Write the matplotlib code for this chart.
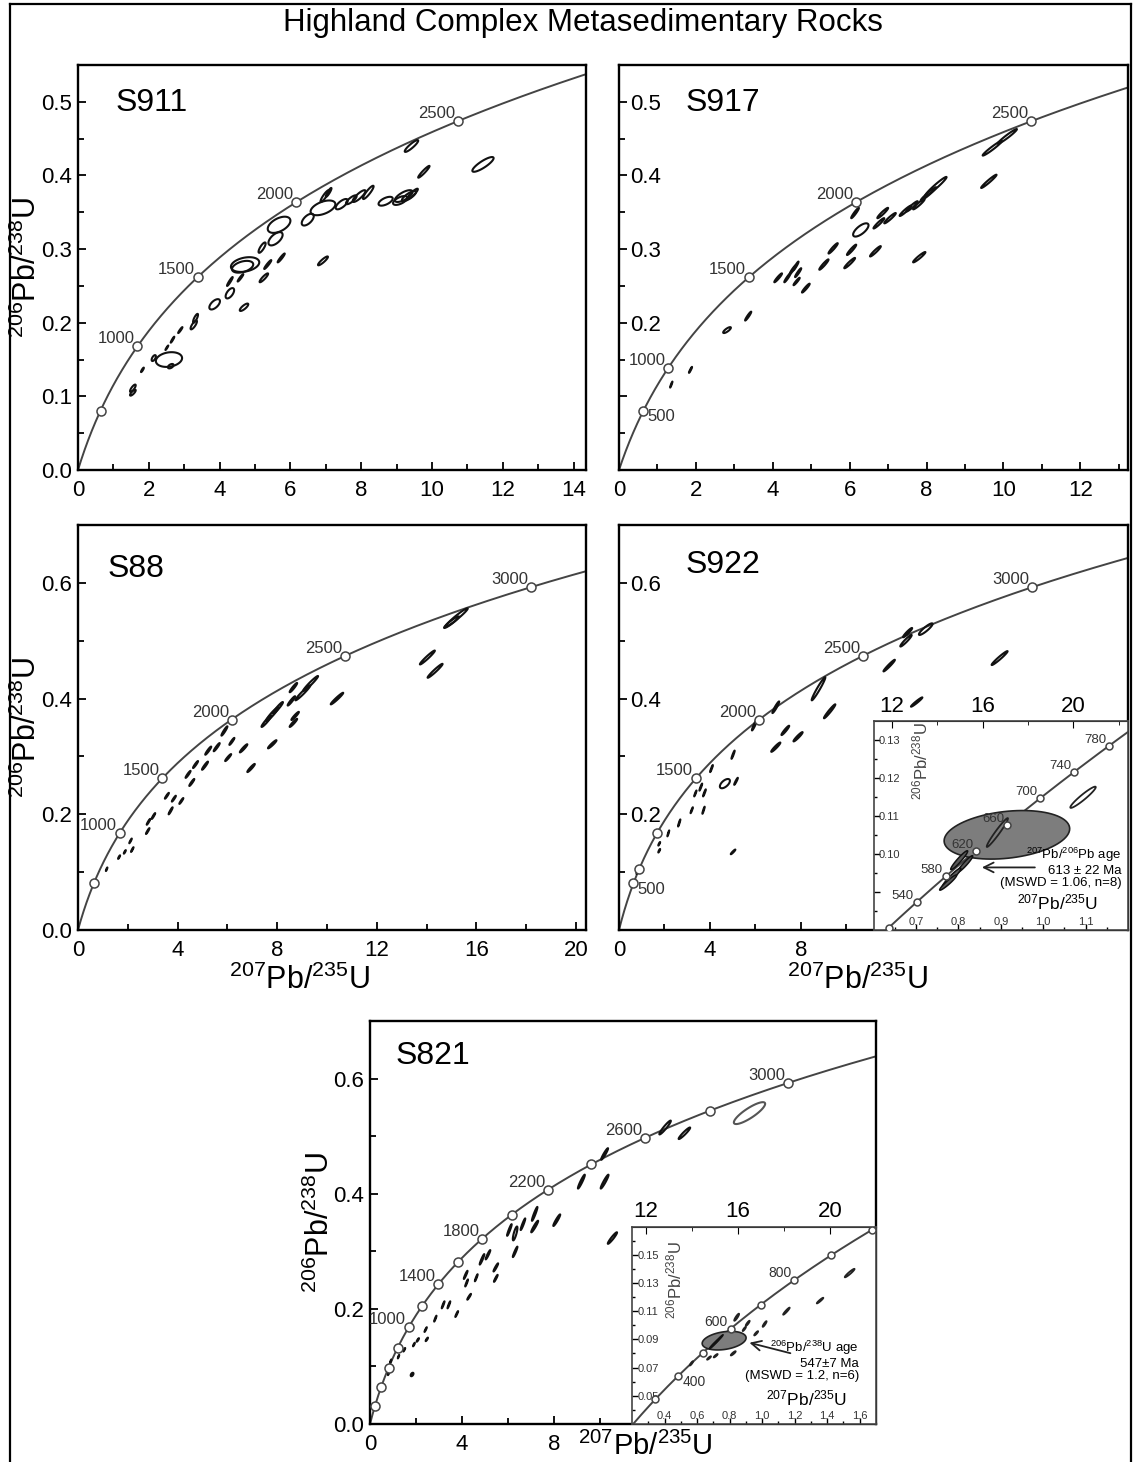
import numpy as np
import matplotlib
matplotlib.use("Agg")
import matplotlib.pyplot as plt
from matplotlib.ticker import FormatStrFormatter

plt.rcParams["font.family"] = ["Liberation Sans", "DejaVu Sans"]
plt.rcParams["mathtext.fontset"] = "custom"
plt.rcParams["mathtext.rm"] = "Liberation Sans"
plt.rcParams["mathtext.it"] = "Liberation Sans:italic"
plt.rcParams["mathtext.bf"] = "Liberation Sans:bold"

# decay constants (per year) used for the concordia curve
L238 = 1.55125e-10
L235 = 9.8485e-10

TITLE = "Highland Complex Metasedimentary Rocks"
YLAB = r"$^{206}$Pb/$^{238}$U"
XLAB = r"$^{207}$Pb/$^{235}$U"

# ---- concordia age markers (Ma), their labels and label side ----
s911_ages = [500, 1000, 1500, 2000, 2500]
s911_labels = ["", "1000", "1500", "2000", "2500"]
s911_side = ["ul"] * 5

s917_ages = [500, 840, 1500, 2000, 2500]
s917_labels = ["500", "1000", "1500", "2000", "2500"]
s917_side = ["lr", "ul", "ul", "ul", "ul"]

s88_ages = [500, 1000, 1500, 2000, 2500, 3000]
s88_labels = ["", "1000", "1500", "2000", "2500", "3000"]
s88_side = ["ul"] * 6

s922_ages = [500, 650, 1000, 1500, 2000, 2500, 3000]
s922_labels = ["500", "", "", "1500", "2000", "2500", "3000"]
s922_side = ["lr", "ul", "ul", "ul", "ul", "ul", "ul"]

s922i_ages = [500, 540, 580, 620, 660, 700, 740, 780]
s922i_labels = ["", "540", "580", "620", "660", "700", "740", "780"]
s922i_side = ["ul"] * 8

s821_ages = [200, 400, 600, 800, 1000, 1200, 1400, 1600, 1800, 2000,
             2200, 2400, 2600, 2800, 3000]
s821_labels = ["", "", "", "", "1000", "", "1400", "", "1800", "",
               "2200", "", "2600", "", "3000"]
s821_side = ["ul"] * 15

s821i_ages = [300, 400, 500, 600, 700, 800, 900, 1000]
s821i_labels = ["", "400", "", "600", "", "800", "", ""]
s821i_side = ["ul", "lr", "ul", "ul", "ul", "ul", "ul", "ul"]

# ---- analyses: 207Pb/235U, 206Pb/238U, x half-extent, y half-extent, rho ----
s911_ell = [
    (9.42, 0.440, 0.19, 0.008, 0.9), (11.44, 0.415, 0.30, 0.010, 0.85),
    (9.77, 0.405, 0.16, 0.008, 0.95), (9.20, 0.372, 0.25, 0.008, 0.7),
    (9.35, 0.372, 0.20, 0.007, 0.8), (9.10, 0.366, 0.20, 0.006, 0.6),
    (9.45, 0.375, 0.15, 0.007, 0.9), (8.69, 0.365, 0.20, 0.006, 0.6),
    (8.20, 0.377, 0.15, 0.009, 0.9), (7.94, 0.372, 0.18, 0.008, 0.85),
    (7.72, 0.367, 0.15, 0.006, 0.8), (7.45, 0.361, 0.17, 0.007, 0.7),
    (6.92, 0.356, 0.35, 0.010, 0.5), (6.97, 0.372, 0.12, 0.008, 0.9),
    (7.08, 0.377, 0.08, 0.006, 0.9), (6.49, 0.340, 0.17, 0.008, 0.6),
    (5.68, 0.333, 0.32, 0.011, 0.5), (5.58, 0.314, 0.20, 0.009, 0.6),
    (5.20, 0.302, 0.10, 0.007, 0.8), (4.72, 0.279, 0.40, 0.010, 0.3),
    (4.65, 0.276, 0.30, 0.008, 0.4), (5.74, 0.288, 0.10, 0.006, 0.95),
    (5.36, 0.279, 0.10, 0.006, 0.95), (5.25, 0.261, 0.12, 0.006, 0.9),
    (4.29, 0.256, 0.08, 0.006, 0.95), (4.59, 0.261, 0.08, 0.005, 0.95),
    (4.29, 0.240, 0.12, 0.007, 0.6), (3.86, 0.225, 0.15, 0.007, 0.6),
    (4.69, 0.221, 0.12, 0.005, 0.8), (6.92, 0.284, 0.14, 0.006, 0.9),
    (3.32, 0.206, 0.07, 0.006, 0.8), (3.27, 0.197, 0.09, 0.006, 0.8),
    (2.89, 0.190, 0.06, 0.004, 0.95), (2.67, 0.177, 0.05, 0.004, 0.95),
    (2.51, 0.166, 0.04, 0.003, 0.95), (2.57, 0.150, 0.37, 0.010, 0.2),
    (2.14, 0.152, 0.06, 0.004, 0.6), (2.62, 0.141, 0.08, 0.003, 0.5),
    (1.82, 0.136, 0.04, 0.003, 0.9), (1.55, 0.111, 0.08, 0.005, 0.8),
    (1.55, 0.105, 0.08, 0.004, 0.8),
]

s917_ell = [
    (9.71, 0.437, 0.25, 0.010, 0.97), (10.10, 0.453, 0.25, 0.010, 0.97),
    (9.62, 0.392, 0.20, 0.009, 0.97), (8.24, 0.385, 0.28, 0.013, 0.97),
    (8.05, 0.375, 0.20, 0.009, 0.97), (7.45, 0.352, 0.15, 0.007, 0.95),
    (7.62, 0.358, 0.15, 0.007, 0.95), (7.80, 0.361, 0.15, 0.007, 0.95),
    (7.05, 0.342, 0.15, 0.007, 0.95), (6.86, 0.349, 0.14, 0.007, 0.95),
    (6.76, 0.335, 0.14, 0.007, 0.95), (6.14, 0.349, 0.10, 0.007, 0.95),
    (6.29, 0.326, 0.20, 0.009, 0.7), (5.57, 0.301, 0.12, 0.007, 0.95),
    (6.05, 0.299, 0.12, 0.007, 0.95), (6.67, 0.297, 0.14, 0.007, 0.95),
    (5.33, 0.279, 0.12, 0.007, 0.95), (6.00, 0.281, 0.14, 0.007, 0.95),
    (7.81, 0.289, 0.16, 0.007, 0.95), (4.52, 0.272, 0.08, 0.006, 0.95),
    (4.66, 0.268, 0.08, 0.006, 0.95), (4.60, 0.277, 0.07, 0.006, 0.95),
    (4.14, 0.261, 0.10, 0.006, 0.95), (4.38, 0.261, 0.08, 0.006, 0.95),
    (4.62, 0.256, 0.08, 0.005, 0.95), (4.86, 0.247, 0.10, 0.006, 0.95),
    (3.36, 0.209, 0.08, 0.006, 0.95), (2.81, 0.190, 0.10, 0.004, 0.8),
    (1.86, 0.136, 0.04, 0.004, 0.95), (1.36, 0.116, 0.03, 0.004, 0.95),
]

s88_ell = [
    (15.20, 0.540, 0.45, 0.016, 0.97), (15.00, 0.532, 0.30, 0.010, 0.95),
    (14.03, 0.471, 0.30, 0.012, 0.97), (14.34, 0.448, 0.30, 0.012, 0.97),
    (10.40, 0.400, 0.25, 0.010, 0.97), (9.34, 0.426, 0.30, 0.013, 0.97),
    (9.03, 0.410, 0.30, 0.013, 0.97), (8.65, 0.419, 0.15, 0.008, 0.95),
    (8.57, 0.396, 0.15, 0.008, 0.95), (8.03, 0.384, 0.20, 0.010, 0.95),
    (7.80, 0.373, 0.25, 0.012, 0.95), (7.57, 0.361, 0.20, 0.010, 0.95),
    (8.72, 0.370, 0.15, 0.007, 0.95), (8.65, 0.358, 0.15, 0.007, 0.95),
    (7.80, 0.321, 0.17, 0.007, 0.95), (6.95, 0.280, 0.15, 0.007, 0.95),
    (6.65, 0.314, 0.15, 0.007, 0.95), (6.18, 0.326, 0.10, 0.006, 0.95),
    (6.03, 0.298, 0.12, 0.006, 0.95), (5.88, 0.344, 0.12, 0.008, 0.95),
    (5.57, 0.316, 0.12, 0.007, 0.95), (5.23, 0.310, 0.12, 0.007, 0.95),
    (5.10, 0.284, 0.12, 0.007, 0.95), (4.72, 0.286, 0.10, 0.006, 0.95),
    (4.42, 0.269, 0.10, 0.006, 0.95), (4.57, 0.255, 0.10, 0.006, 0.95),
    (3.57, 0.232, 0.08, 0.005, 0.95), (3.85, 0.227, 0.08, 0.005, 0.95),
    (4.15, 0.223, 0.08, 0.005, 0.95), (3.72, 0.206, 0.08, 0.006, 0.95),
    (3.03, 0.197, 0.07, 0.005, 0.95), (2.83, 0.187, 0.07, 0.005, 0.95),
    (2.80, 0.171, 0.07, 0.005, 0.95), (2.11, 0.154, 0.05, 0.004, 0.95),
    (2.18, 0.139, 0.05, 0.004, 0.95), (1.88, 0.135, 0.04, 0.003, 0.9),
    (1.65, 0.126, 0.04, 0.003, 0.9), (1.15, 0.105, 0.03, 0.003, 0.9),
]

s922_ell = [
    (16.75, 0.470, 0.35, 0.012, 0.97), (13.50, 0.520, 0.30, 0.010, 0.9),
    (12.70, 0.514, 0.20, 0.008, 0.95), (12.63, 0.500, 0.25, 0.010, 0.95),
    (11.89, 0.457, 0.25, 0.010, 0.97), (13.10, 0.394, 0.25, 0.008, 0.97),
    (8.78, 0.417, 0.30, 0.020, 0.97), (9.27, 0.378, 0.25, 0.012, 0.97),
    (6.90, 0.385, 0.15, 0.010, 0.95), (5.97, 0.355, 0.12, 0.010, 0.95),
    (7.32, 0.345, 0.17, 0.008, 0.95), (7.88, 0.334, 0.20, 0.008, 0.95),
    (6.90, 0.316, 0.20, 0.008, 0.95), (5.02, 0.303, 0.07, 0.007, 0.95),
    (4.07, 0.279, 0.06, 0.006, 0.95), (4.66, 0.253, 0.22, 0.008, 0.6),
    (5.15, 0.257, 0.08, 0.006, 0.95), (3.60, 0.247, 0.06, 0.006, 0.95),
    (3.76, 0.237, 0.06, 0.006, 0.95), (3.36, 0.236, 0.05, 0.005, 0.95),
    (3.20, 0.207, 0.05, 0.005, 0.95), (3.72, 0.207, 0.05, 0.006, 0.95),
    (2.65, 0.185, 0.05, 0.006, 0.95), (2.17, 0.167, 0.04, 0.005, 0.95),
    (1.77, 0.149, 0.04, 0.003, 0.9), (1.77, 0.137, 0.04, 0.003, 0.9),
    (5.02, 0.135, 0.10, 0.004, 0.95), (0.82, 0.103, 0.05, 0.006, 0.95),
]

s922i_mean = (0.9145, 0.1051, 0.148, 0.0064, 0.25)
s922i_dark = [
    (0.802, 0.0984, 0.020, 0.0025, 0.95), (0.816, 0.0974, 0.018, 0.0022, 0.95),
    (0.784, 0.0938, 0.022, 0.0025, 0.95), (0.776, 0.0925, 0.020, 0.0020, 0.95),
]
s922i_open = [
    (0.892, 0.1057, 0.025, 0.0038, 0.97), (1.094, 0.1150, 0.030, 0.0028, 0.95),
]

s821_ell = [
    (12.83, 0.515, 0.25, 0.012, 0.95), (13.67, 0.505, 0.25, 0.010, 0.95),
    (10.20, 0.469, 0.15, 0.010, 0.95), (9.19, 0.421, 0.15, 0.012, 0.95),
    (10.20, 0.421, 0.17, 0.012, 0.95), (7.16, 0.365, 0.12, 0.012, 0.95),
    (7.16, 0.343, 0.15, 0.010, 0.95), (8.12, 0.354, 0.15, 0.010, 0.95),
    (6.31, 0.331, 0.10, 0.012, 0.8), (6.06, 0.337, 0.10, 0.010, 0.95),
    (6.65, 0.347, 0.10, 0.010, 0.95), (6.31, 0.299, 0.10, 0.009, 0.95),
    (4.87, 0.286, 0.10, 0.009, 0.95), (5.13, 0.294, 0.10, 0.008, 0.95),
    (5.47, 0.272, 0.10, 0.007, 0.95), (5.47, 0.253, 0.08, 0.006, 0.95),
    (4.16, 0.259, 0.08, 0.007, 0.95), (4.20, 0.245, 0.06, 0.006, 0.95),
    (4.62, 0.254, 0.06, 0.006, 0.95), (4.31, 0.221, 0.08, 0.005, 0.95),
    (3.18, 0.207, 0.06, 0.006, 0.95), (3.43, 0.207, 0.06, 0.006, 0.95),
    (3.77, 0.191, 0.06, 0.005, 0.95), (2.84, 0.183, 0.05, 0.005, 0.95),
    (2.42, 0.164, 0.05, 0.004, 0.95), (2.47, 0.147, 0.05, 0.003, 0.9),
    (2.08, 0.146, 0.05, 0.003, 0.9), (1.91, 0.138, 0.04, 0.003, 0.9),
    (1.49, 0.129, 0.04, 0.003, 0.9), (1.24, 0.117, 0.03, 0.003, 0.9),
    (0.90, 0.109, 0.03, 0.003, 0.9), (0.81, 0.088, 0.03, 0.003, 0.9),
    (1.83, 0.086, 0.06, 0.003, 0.5), (10.54, 0.323, 0.20, 0.010, 0.95),
]
s821_big = (16.5, 0.540, 0.68, 0.019, 0.85)

s821i_mean = (0.766, 0.0891, 0.135, 0.0066, 0.3)
s821i_dark = [
    (0.704, 0.0867, 0.030, 0.0035, 0.97), (0.735, 0.0903, 0.025, 0.0030, 0.97),
]
s821i_open = [
    (0.843, 0.1057, 0.015, 0.0025, 0.9), (0.911, 0.1014, 0.012, 0.0018, 0.9),
    (0.890, 0.0974, 0.010, 0.0015, 0.9), (0.963, 0.0943, 0.012, 0.0015, 0.9),
    (1.015, 0.1009, 0.012, 0.0020, 0.9), (1.149, 0.1100, 0.020, 0.0025, 0.95),
    (1.356, 0.1175, 0.020, 0.0020, 0.95), (1.538, 0.1370, 0.030, 0.0030, 0.95),
    (0.673, 0.0768, 0.012, 0.0012, 0.9), (0.714, 0.0784, 0.012, 0.0012, 0.9),
    (0.822, 0.0801, 0.015, 0.0015, 0.9), (0.565, 0.0730, 0.010, 0.0015, 0.9),
]

CURVE = "#444444"
W, H = 1133, 1462


def conc(t_ma):
    t = np.asarray(t_ma, dtype=float) * 1e6
    return np.exp(L235 * t) - 1, np.exp(L238 * t) - 1


def ellipse(ax, e, fc="none", ec="#111111", lw=1.5, z=3):
    x, y, sx, sy, rho = e
    th = np.linspace(0, 2 * np.pi, 90)
    ex = x + sx * np.cos(th)
    ey = y + sy * (rho * np.cos(th) + np.sqrt(1 - rho ** 2) * np.sin(th))
    ax.fill(ex, ey, facecolor=fc, edgecolor=ec, lw=lw, zorder=z)


def concordia(ax, ages, labels, sides, tmax, ms=6.5, fs=12):
    t = np.linspace(0, tmax, 800)
    cx, cy = conc(t)
    ax.plot(cx, cy, color=CURVE, lw=1.4, zorder=2)
    mx, my = conc(ages)
    ax.plot(mx, my, "o", ms=ms, mfc="white", mec=CURVE, mew=1.1, zorder=5)
    for x, y, s, side in zip(mx, my, labels, sides):
        if not s:
            continue
        if side == "ul":
            ax.annotate(s, (x, y), xytext=(-2, 0), textcoords="offset points",
                        ha="right", va="bottom", fontsize=fs, color="#333333",
                        zorder=6)
        else:
            ax.annotate(s, (x, y), xytext=(3, 1), textcoords="offset points",
                        ha="left", va="top", fontsize=fs, color="#333333",
                        zorder=6)


def box(l, t, r, b):
    return [l / W, 1 - b / H, (r - l) / W, (b - t) / H]


def style(ax, xlim, ylim, xmaj, xmin, ymaj, ymin, ylabs=None, inside=False):
    ax.set_xlim(*xlim)
    ax.set_ylim(*ylim)
    ax.set_xticks(xmaj)
    ax.set_xticks(xmin, minor=True)
    ax.set_yticks(ymaj)
    ax.set_yticks(ymin, minor=True)
    ax.yaxis.set_major_formatter(FormatStrFormatter("%.1f"))
    if ylabs is not None:
        ax.set_yticklabels(ylabs)
    ax.tick_params(which="both", direction="in", labelsize=16)
    ax.tick_params(which="major", length=6, width=1.3)
    ax.tick_params(which="minor", length=4, width=1.3)
    ax.tick_params(axis="x", pad=7)
    ax.tick_params(axis="y", pad=4)
    if inside:
        ax.tick_params(axis="y", pad=-8)
        for lab in ax.get_yticklabels():
            lab.set_horizontalalignment("left")
    for sp in ax.spines.values():
        sp.set_linewidth(1.7)


def panel_name(ax, name, x, y):
    ax.text(x, y, name, transform=ax.transAxes, fontsize=23, ha="left",
            va="center", zorder=7)


def make_inset(ax, bounds, ixlim, iylim, ixt, ixm, iyt, iym, yfmt, top_maj,
               top_min):
    ins = ax.inset_axes(bounds)
    ins.set_zorder(10)
    ins.set_facecolor("white")
    ins.set_xlim(*ixlim)
    ins.set_ylim(*iylim)
    ins.set_xticks(ixt)
    ins.set_xticks(ixm, minor=True)
    ins.set_yticks(iyt)
    ins.set_yticks(iym, minor=True)
    ins.xaxis.set_major_formatter(FormatStrFormatter("%.1f"))
    ins.yaxis.set_major_formatter(FormatStrFormatter(yfmt))
    ins.tick_params(which="both", direction="in", labelsize=8,
                    labelcolor="#333333", width=1)
    ins.tick_params(which="major", length=4)
    ins.tick_params(which="minor", length=2.5)
    ins.tick_params(axis="x", pad=-9.5)
    ins.tick_params(axis="y", pad=-4)
    for lab in ins.get_yticklabels():
        lab.set_horizontalalignment("left")
    for sp in ins.spines.values():
        sp.set_linewidth(1.2)
        sp.set_color("#444444")
    # top scale continues the main 207Pb/235U axis
    lo, hi = ax.get_xlim()
    mx0 = lo + bounds[0] * (hi - lo)
    mx1 = lo + (bounds[0] + bounds[2]) * (hi - lo)
    a0, a1 = ixlim

    def fwd(u):
        return mx0 + (np.asarray(u) - a0) / (a1 - a0) * (mx1 - mx0)

    def inv(v):
        return a0 + (np.asarray(v) - mx0) / (mx1 - mx0) * (a1 - a0)

    sec = ins.secondary_xaxis("top", functions=(fwd, inv))
    sec.set_xticks(top_maj)
    sec.set_xticks(top_min, minor=True)
    sec.tick_params(which="both", direction="in", labelsize=16, pad=3)
    sec.tick_params(which="major", length=5)
    sec.tick_params(which="minor", length=3)
    return ins


fig = plt.figure(figsize=(W / 100, H / 100), dpi=100)
fig.text(583 / W, 1 - 23 / H, TITLE, ha="center", va="center", fontsize=22.5)

# outer frame
for xs, ys in [([10, 10], [0, 4]), ([1131, 1131], [0, 4]), ([10, 1131], [4, 4])]:
    fx = [v / W for v in xs]
    fy = [1 - (H if v == 0 else v) / H for v in ys]
    fig.add_artist(plt.Line2D(fx, fy, transform=fig.transFigure, color="black",
                              lw=1.6))

# ---- S911 ----
ax = fig.add_axes(box(78, 65, 586, 470))
style(ax, (0, 14.35), (0, 0.55), np.arange(0, 15, 2), np.arange(1, 15, 2),
      np.arange(0, 0.51, 0.1), np.arange(0.05, 0.55, 0.1))
concordia(ax, s911_ages, s911_labels, s911_side, 4000)
for e in s911_ell:
    ellipse(ax, e)
panel_name(ax, "S911", 0.073, 0.905)
ax.set_ylabel(YLAB, fontsize=22)
ax.yaxis.set_label_coords(-0.068, 0.5)

# ---- S917 ----
ax = fig.add_axes(box(619, 65, 1128, 470))
style(ax, (0, 13.24), (0, 0.55), np.arange(0, 13, 2), np.arange(1, 14, 2),
      np.arange(0, 0.51, 0.1), np.arange(0.05, 0.55, 0.1),
      ylabs=["", "", "0.2", "0.3", "0.4", "0.5"], inside=True)
concordia(ax, s917_ages, s917_labels, s917_side, 4000)
for e in s917_ell:
    ellipse(ax, e)
panel_name(ax, "S917", 0.13, 0.905)

# ---- S88 ----
ax = fig.add_axes(box(78, 525, 586, 930))
style(ax, (0, 20.4), (0, 0.70), np.arange(0, 21, 4), np.arange(2, 21, 4),
      np.arange(0, 0.61, 0.2), np.arange(0.1, 0.7, 0.2))
concordia(ax, s88_ages, s88_labels, s88_side, 4000)
for e in s88_ell:
    ellipse(ax, e)
panel_name(ax, "S88", 0.059, 0.892)
ax.set_ylabel(YLAB, fontsize=22)
ax.yaxis.set_label_coords(-0.068, 0.5)
ax.set_xlabel(XLAB, fontsize=22)
ax.xaxis.set_label_coords(0.437, -0.085)

# ---- S922 ----
ax = fig.add_axes(box(619, 525, 1128, 930))
style(ax, (0, 22.4), (0, 0.70), [0, 4, 8], [2, 6, 10],
      [0.2, 0.4, 0.6], [0.1, 0.3, 0.5], inside=True)
concordia(ax, s922_ages, s922_labels, s922_side, 4000)
for e in s922_ell:
    ellipse(ax, e)
panel_name(ax, "S922", 0.13, 0.902)
ax.set_xlabel(XLAB, fontsize=22)
ax.xaxis.set_label_coords(0.468, -0.085)

ins = make_inset(ax, [0.5, 0.0, 0.5, 0.515], (0.6, 1.2), (0.08, 0.135),
                 [0.7, 0.8, 0.9, 1.0, 1.1], np.arange(0.65, 1.2, 0.1),
                 [0.09, 0.10, 0.11, 0.12, 0.13], np.arange(0.085, 0.135, 0.01),
                 "%.2f", [12, 16, 20], [14, 18, 22])
ins.set_yticklabels(["", "0.10", "0.11", "0.12", "0.13"])
for lab in ins.get_yticklabels():
    lab.set_horizontalalignment("left")
ellipse(ins, s922i_mean, fc="#7d7d7d", ec="#222222", lw=1.2, z=3)
for e in s922i_dark:
    ellipse(ins, e, fc="#5a5a5a", ec="#111111", lw=1.1, z=4)
for e in s922i_open:
    ellipse(ins, e, fc="none", ec="#222222", lw=1.3, z=4)
concordia(ins, s922i_ages, s922i_labels, s922i_side, 1000, ms=5, fs=9.5)
ins.text(0.185, 0.81, YLAB, transform=ins.transAxes, rotation=90, fontsize=12,
         color="#444444", ha="center", va="center")
ins.text(0.725, 0.13, XLAB, transform=ins.transAxes, fontsize=12.5,
         ha="center", va="center")
ins.text(0.975, 0.30, r"$^{207}$Pb/$^{206}$Pb age" + "\n613 ± 22 Ma\n(MSWD = 1.06, n=8)",
         transform=ins.transAxes, fontsize=9.5, ha="right", va="center",
         linespacing=1.05, zorder=8)
ins.annotate("", xy=(0.415, 0.30), xytext=(0.645, 0.30), xycoords="axes fraction",
             arrowprops=dict(arrowstyle="->,head_length=0.7,head_width=0.35",
                             lw=1.3, color="#222222"))

# ---- S821 ----
ax = fig.add_axes(box(370, 1021, 876, 1424))
style(ax, (0, 22.0), (0, 0.70), [0, 4, 8], [2, 6, 10],
      np.arange(0, 0.61, 0.2), np.arange(0.1, 0.7, 0.2))
concordia(ax, s821_ages, s821_labels, s821_side, 4000)
for e in s821_ell:
    ellipse(ax, e)
ellipse(ax, s821_big, ec="#555555", lw=1.5)
panel_name(ax, "S821", 0.05, 0.912)
ax.set_ylabel(YLAB, fontsize=22)
ax.yaxis.set_label_coords(-0.068, 0.5)
ax.set_xlabel(XLAB, fontsize=21)
ax.xaxis.set_label_coords(0.545, -0.02)

ins = make_inset(ax, [0.518, 0.0, 0.482, 0.49], (0.2, 1.7), (0.03, 0.17),
                 [0.4, 0.6, 0.8, 1.0, 1.2, 1.4, 1.6], np.arange(0.3, 1.7, 0.2),
                 [0.05, 0.07, 0.09, 0.11, 0.13, 0.15], np.arange(0.04, 0.17, 0.02),
                 "%.2f", [12, 16, 20], [14, 18])
ellipse(ins, s821i_mean, fc="#7d7d7d", ec="#222222", lw=1.2, z=3)
for e in s821i_dark:
    ellipse(ins, e, fc="#111111", ec="#111111", lw=1.0, z=4)
for e in s821i_open:
    ellipse(ins, e, fc="none", ec="#222222", lw=1.3, z=4)
concordia(ins, s821i_ages, s821i_labels, s821i_side, 1100, ms=5, fs=10)
ins.text(0.175, 0.726, YLAB, transform=ins.transAxes, rotation=90, fontsize=12,
         color="#444444", ha="center", va="center")
ins.text(0.717, 0.13, XLAB, transform=ins.transAxes, fontsize=12.5,
         ha="center", va="center")
ins.text(0.93, 0.32, r"$^{206}$Pb/$^{238}$U age" + "\n547±7 Ma\n(MSWD = 1.2, n=6)",
         transform=ins.transAxes, fontsize=9.5, ha="right", va="center",
         linespacing=1.05, zorder=8)
ins.annotate("", xy=(0.47, 0.415), xytext=(0.66, 0.355), xycoords="axes fraction",
             arrowprops=dict(arrowstyle="->,head_length=0.7,head_width=0.35",
                             lw=1.3, color="#222222"))

fig.savefig("out.png", dpi=100)
